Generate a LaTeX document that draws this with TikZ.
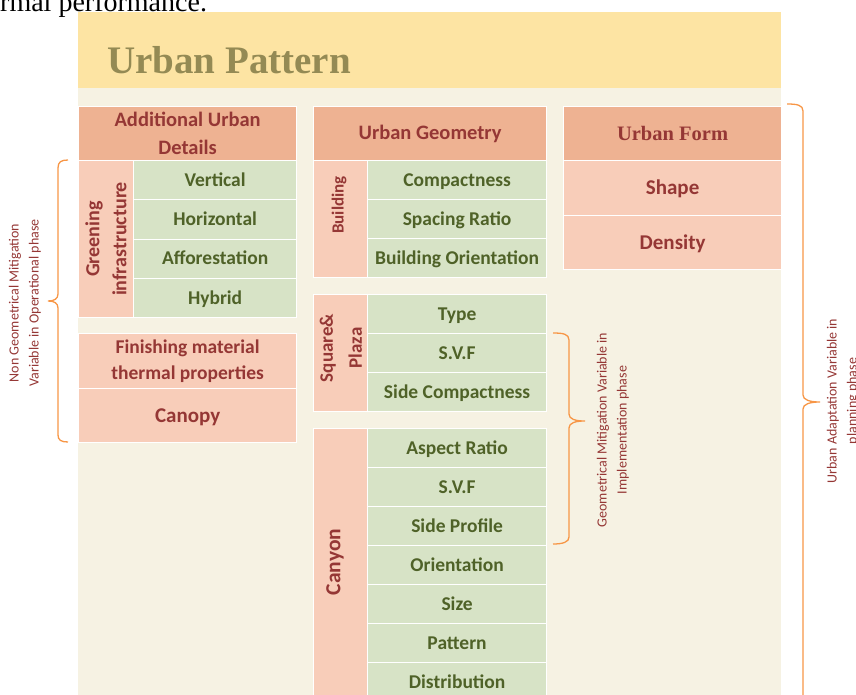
\documentclass[tikz,border=0pt]{standalone}
\usepackage{fontspec}
\setmainfont{Carlito}
\newfontfamily\serifface{Liberation Serif}

\definecolor{bandyellow}{HTML}{FDE4A3}
\definecolor{panelbeige}{HTML}{F6F2E3}
\definecolor{headsalmon}{HTML}{EEB292}
\definecolor{cellpink}{HTML}{F8CDB9}
\definecolor{cellgreen}{HTML}{D7E3C6}
\definecolor{textred}{HTML}{953735}
\definecolor{textgreen}{HTML}{4F6228}
\definecolor{titleolive}{HTML}{948A54}
\definecolor{braceorange}{HTML}{F79646}

\begin{document}
\begin{tikzpicture}[x=1pt,y=-1pt,
  box/.style={anchor=north west, inner sep=0pt, draw=white, line width=1.2pt},
  head/.style={box, fill=headsalmon, text=textred, align=center,
    font=\fontsize{20.5}{28}\selectfont\bfseries},
  pinkcell/.style={box, fill=cellpink, text=textred,
    font=\fontsize{21}{28}\selectfont\bfseries},
  pinkone/.style={pinkcell, text height=13.3pt, text depth=0pt},
  greencell/.style={box, fill=cellgreen, text=textgreen, text height=12.3pt, text depth=0pt,
    font=\fontsize{19.5}{27}\selectfont\bfseries},
  sidelabel/.style={rotate=90, align=center, text=textred, inner sep=0pt,
    font=\fontsize{20}{27}\selectfont\bfseries},
  note/.style={rotate=90, align=center, text=textred, inner sep=0pt,
    font=\fontsize{14}{20}\selectfont},
  brace/.style={draw=braceorange, line width=1.3pt}
]
\useasboundingbox (0,0) rectangle (856,695);

% running text above the figure
\node[anchor=base west, inner sep=0pt, font=\serifface\fontsize{28}{30}\selectfont] (lead) at (0,12) {rmal performance.};

% panel and title band
\fill[panelbeige] (78,88) rectangle (781,700);
\fill[bandyellow] (78,12) rectangle (781,88);
\node[anchor=base west, inner sep=0pt, text=titleolive,
  font=\serifface\bfseries\fontsize{39}{40}\selectfont] (title) at (107,74) {Urban Pattern};

% ---- left column: additional urban details
\node[head, minimum width=218pt, minimum height=54pt] (addhead) at (78,106) {Additional Urban\\Details};
\node[pinkcell, minimum width=55pt, minimum height=157pt] (greenblk) at (78,160) {};
\node[sidelabel] (greenlbl) at (106,239) {Greening\\infrastructure};
\node[greencell, minimum width=163pt, minimum height=39.25pt] (vert) at (133,160) {Vertical};
\node[greencell, minimum width=163pt, minimum height=39.25pt] (horiz) at (133,199.25) {Horizontal};
\node[greencell, minimum width=163pt, minimum height=39.25pt] (affor) at (133,238.5) {Afforestation};
\node[greencell, minimum width=163pt, minimum height=39.25pt] (hybrid) at (133,277.75) {Hybrid};
\node[pinkcell, align=center, font=\fontsize{19.5}{26}\selectfont\bfseries,
  minimum width=218pt, minimum height=55pt] (finish) at (78,333) {Finishing material\\thermal properties};
\node[pinkone, minimum width=218pt, minimum height=54pt] (canopy) at (78,388) {Canopy};

% ---- middle column: urban geometry
\node[head, minimum width=233pt, minimum height=54pt] (geohead) at (313,106) {Urban Geometry};

\node[pinkcell, minimum width=54pt, minimum height=117pt] (bldgblk) at (313,160) {};
\node[sidelabel, font=\fontsize{17}{24}\selectfont\bfseries] (bldglbl) at (339,205) {Building};
\node[greencell, minimum width=179pt, minimum height=39pt] (compact) at (367,160) {Compactness};
\node[greencell, minimum width=179pt, minimum height=39pt] (spacing) at (367,199) {Spacing Ratio};
\node[greencell, minimum width=179pt, minimum height=39pt] (bldgor) at (367,238) {Building Orientation};

\node[pinkcell, minimum width=54pt, minimum height=117pt] (plazablk) at (313,294) {};
\node[sidelabel, font=\fontsize{19}{29}\selectfont\bfseries] (plazalbl) at (341,348) {Square\&\\Plaza};
\node[greencell, minimum width=179pt, minimum height=39pt] (type) at (367,294) {Type};
\node[greencell, minimum width=179pt, minimum height=39pt] (svfa) at (367,333) {S.V.F};
\node[greencell, minimum width=179pt, minimum height=39pt] (sidecomp) at (367,372) {Side Compactness};

\node[pinkcell, minimum width=54pt, minimum height=273pt] (canyonblk) at (313,428) {};
\node[sidelabel, font=\fontsize{21.5}{28}\selectfont\bfseries] (canyonlbl) at (335,562) {Canyon};
\node[greencell, minimum width=179pt, minimum height=39pt] (aspect) at (367,428) {Aspect Ratio};
\node[greencell, minimum width=179pt, minimum height=39pt] (svfb) at (367,467) {S.V.F};
\node[greencell, minimum width=179pt, minimum height=39pt] (profile) at (367,506) {Side Profile};
\node[greencell, minimum width=179pt, minimum height=39pt] (orient) at (367,545) {Orientation};
\node[greencell, minimum width=179pt, minimum height=39pt] (size) at (367,584) {Size};
\node[greencell, minimum width=179pt, minimum height=39pt] (pattern) at (367,623) {Pattern};
\node[greencell, minimum width=179pt, minimum height=39pt] (distrib) at (367,662) {Distribution};

% ---- right column: urban form
\node[head, minimum width=218pt, minimum height=54pt, text height=13.6pt, text depth=0pt,
  font=\serifface\bfseries\fontsize{20.5}{26}\selectfont] (formhead) at (563,106) {Urban Form};
\node[pinkone, minimum width=218pt, minimum height=55pt] (shape) at (563,160) {Shape};
\node[pinkone, minimum width=218pt, minimum height=54pt] (density) at (563,215) {Density};

% ---- braces and their notes
\draw[brace] (68,160) .. controls (61,160) and (58,162) .. (58,168) -- (58,294)
  .. controls (58,299) and (54,301) .. (48,301)
  .. controls (54,301) and (58,303) .. (58,308) -- (58,435)
  .. controls (58,440) and (61,442) .. (68,442);
\node[note] (leftnote) at (25,303) {Non Geometrical Mitigation\\Variable in Operational phase};

\draw[brace] (553,333) .. controls (563,333) and (569,334) .. (569,340) -- (569,414)
  .. controls (569,419) and (575,421) .. (585,421)
  .. controls (575,421) and (569,423) .. (569,428) -- (569,537)
  .. controls (569,542) and (563,544) .. (553,544);
\node[note] (midnote) at (613,430) {Geometrical Mitigation Variable in\\Implementation phase};

\draw[brace] (787,104) .. controls (797,104) and (803,105) .. (803,111) -- (803,395)
  .. controls (803,400) and (810,402) .. (820,402)
  .. controls (810,402) and (803,404) .. (803,409) -- (803,720);
\node[note] (rightnote) at (843,401) {Urban Adaptation Variable in\\planning phase};
\end{tikzpicture}
\end{document}
